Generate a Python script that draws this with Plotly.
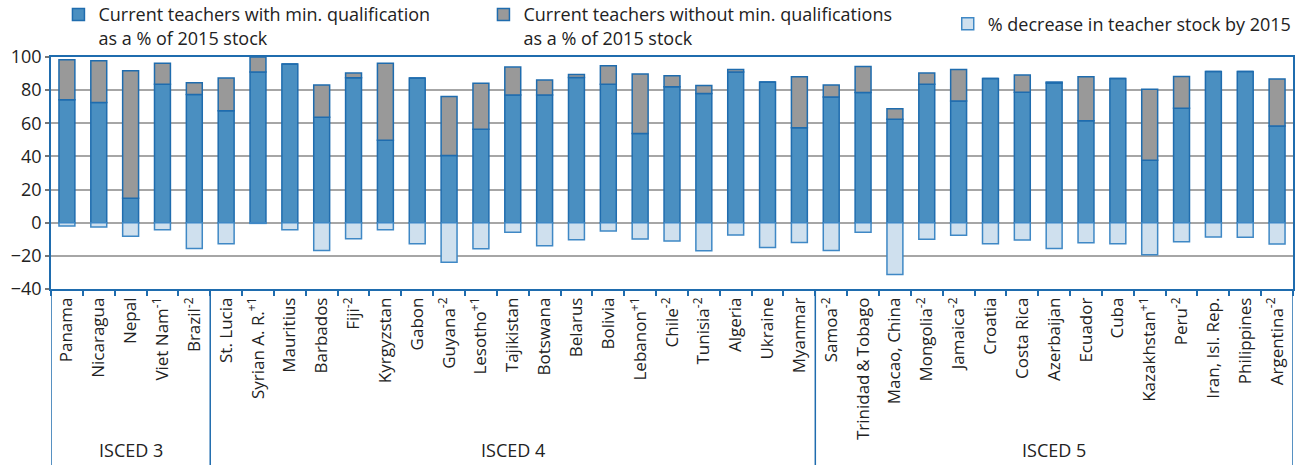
import plotly.graph_objects as go

# Countries, grouped by ISCED level of the minimum teacher qualification
countries = [
    "Panama", "Nicaragua", "Nepal", "Viet Nam", "Brazil",
    "St. Lucia", "Syrian A. R.", "Mauritius", "Barbados", "Fiji", "Kyrgyzstan",
    "Gabon", "Guyana", "Lesotho", "Tajikistan", "Botswana", "Belarus", "Bolivia",
    "Lebanon", "Chile", "Tunisia", "Algeria", "Ukraine", "Myanmar",
    "Samoa", "Trinidad\u2009&\u2009Tobago", "Macao, China", "Mongolia", "Jamaica", "Croatia",
    "Costa Rica", "Azerbaijan", "Ecuador", "Cuba", "Kazakhstan", "Peru",
    "Iran, Isl. Rep.", "Philippines", "Argentina",
]
# Reference-year superscripts shown after the country name
year_marks = {
    "Viet Nam": "-1", "Brazil": "-2", "Syrian A. R.": "+1", "Fiji": "-2",
    "Guyana": "-2", "Lesotho": "+1", "Lebanon": "+1", "Chile": "-2",
    "Tunisia": "-2", "Samoa": "-2", "Mongolia": "-2", "Jamaica": "-2",
    "Kazakhstan": "+1", "Peru": "-2", "Argentina": "-2",
}
group_names = ["ISCED 3", "ISCED 4", "ISCED 5"]
group_sizes = [5, 19, 15]

# Current teachers with minimum qualification, % of 2015 stock
qualified = [
    74.2, 72.6, 14.7, 83.5, 77.4,
    67.5, 90.9, 95.8, 63.7, 87.5, 49.8,
    87.3, 40.5, 56.4, 77.0, 77.0, 87.7, 83.5,
    53.8, 82.0, 78.0, 90.9, 84.9, 57.3,
    75.8, 78.6, 62.5, 83.5, 73.4, 87.1,
    78.8, 84.3, 61.5, 87.1, 37.7, 69.1,
    91.3, 91.3, 58.3,
]
# Current teachers without minimum qualification, % of 2015 stock
unqualified = [
    24.2, 25.2, 77.0, 12.7, 7.1,
    19.8, 9.1, 0.0, 19.4, 2.8, 46.4,
    0.0, 35.7, 27.8, 16.9, 9.1, 1.8, 11.2,
    35.9, 6.7, 4.8, 1.6, 0.0, 30.8,
    7.3, 15.7, 6.2, 6.8, 19.1, 0.0,
    10.3, 0.6, 26.6, 0.0, 42.9, 19.2,
    0.0, 0.0, 28.4,
]
# Decrease in teacher stock by 2015, %
decrease = [
    -2.0, -2.6, -8.2, -4.2, -15.5,
    -12.7, -0.4, -4.2, -16.7, -9.7, -4.2,
    -12.7, -23.8, -15.7, -5.8, -13.9, -10.3, -5.0,
    -9.9, -11.1, -16.9, -7.4, -14.9, -11.9,
    -16.7, -5.8, -31.2, -10.0, -7.6, -12.7,
    -10.5, -15.5, -12.1, -12.7, -19.3, -11.5,
    -8.6, -8.7, -12.9,
]
series_names = [
    "Current teachers with min. qualification<br>as a % of 2015 stock",
    "Current teachers without min. qualifications<br>as a % of 2015 stock",
    "% decrease in teacher stock by 2015",
]
y_ticks = [-40, -20, 0, 20, 40, 60, 80, 100]

tick_text = [
    f"{c}<sup>{year_marks[c]}</sup>" if c in year_marks else c for c in countries
]

EDGE = "#1f6cae"
FONT = "Open Sans"
TXT = "#222222"

fig = go.Figure()
fig.add_trace(go.Bar(
    x=countries, y=qualified, name=series_names[0], legend="legend",
    marker=dict(color="#4a8fc1", line=dict(color=EDGE, width=1.5)),
))
fig.add_trace(go.Bar(
    x=countries, y=unqualified, name=series_names[1], legend="legend",
    marker=dict(color="#999999", line=dict(color=EDGE, width=1.5)),
))
fig.add_trace(go.Bar(
    x=countries, y=decrease, name=series_names[2], legend="legend2",
    marker=dict(color="#cfe0ee", line=dict(color="#3f88c5", width=1.5)),
))

# Group separators and labels below the category axis
shapes = []
annotations = []
start = 0
bounds = [-0.5]
for name, size in zip(group_names, group_sizes):
    end = start + size
    bounds.append(end - 0.5)
    annotations.append(dict(
        x=(start + end - 1) / 2, y=-0.695, xref="x", yref="paper",
        text=name, showarrow=False, yanchor="middle",
        font=dict(family=FONT, size=18, color=TXT),
    ))
    start = end
for b in bounds:
    shapes.append(dict(
        type="line", xref="x", yref="paper", x0=b, x1=b, y0=0, y1=-0.76,
        line=dict(color=EDGE, width=1.5),
    ))

fig.update_layout(
    width=1304, height=465,
    margin=dict(l=51, r=11, t=57, b=176, autoexpand=False),
    paper_bgcolor="white", plot_bgcolor="white",
    barmode="relative", bargap=0.5,
    font=dict(family=FONT, color=TXT),
    shapes=shapes, annotations=annotations,
    legend=dict(
        orientation="h", x=0.006, xanchor="left", y=1.262, yanchor="top",
        valign="top", entrywidth=380, entrywidthmode="pixels",
        font=dict(family=FONT, size=18, color=TXT), tracegroupgap=0,
        bgcolor="rgba(0,0,0,0)", itemclick=False,
    ),
    legend2=dict(
        orientation="h", x=1.003, xanchor="right", y=1.222, yanchor="top",
        font=dict(family=FONT, size=18, color=TXT),
        bgcolor="rgba(0,0,0,0)",
    ),
)
fig.update_xaxes(
    type="category", tickvals=countries, ticktext=tick_text,
    tickangle=-90, tickson="boundaries", ticks="outside", ticklen=5,
    tickcolor=EDGE, tickwidth=1.5,
    showline=True, linecolor=EDGE, linewidth=1.5, mirror=True,
    showgrid=False, tickfont=dict(family=FONT, size=17, color=TXT),
    range=[-0.5, len(countries) - 0.5],
)
fig.update_yaxes(
    range=[-40, 100], tickvals=y_ticks, ticks="outside", ticklen=4,
    tickcolor="#777777", tickwidth=1.5,
    showline=True, linecolor=EDGE, linewidth=1.5, mirror=True,
    showgrid=True, gridcolor="#a6a6a6", gridwidth=1.5,
    zeroline=True, zerolinecolor="#a6a6a6", zerolinewidth=1.5,
    tickfont=dict(family=FONT, size=18, color=TXT),
)

fig.write_html("out.html")
